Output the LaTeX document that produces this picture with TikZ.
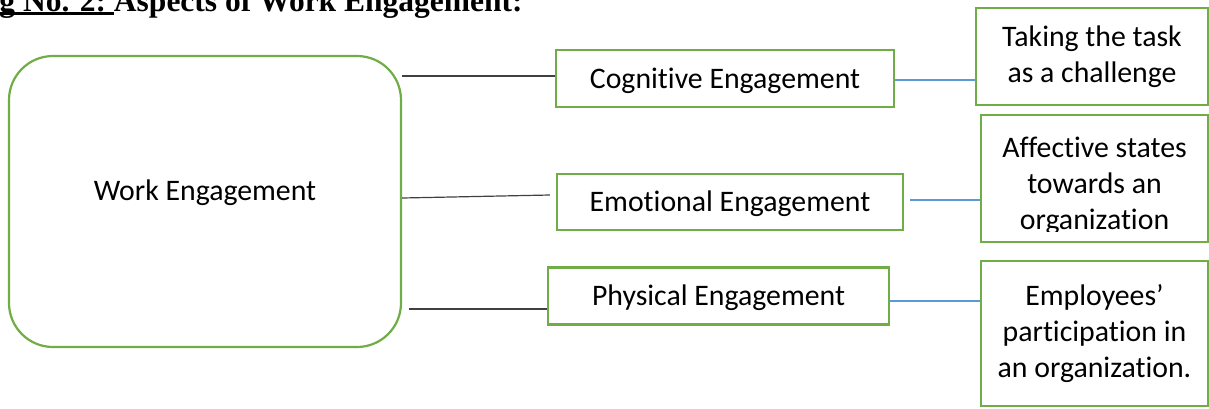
\documentclass[tikz,border=0pt]{standalone}
\usepackage{fontspec}
\setmainfont[Ligatures=NoCommon]{Carlito}
\newfontfamily\titlefont{Liberation Serif}
\usetikzlibrary{calc}
\definecolor{boxgreen}{RGB}{112,173,71}
\definecolor{linkblue}{RGB}{91,155,213}
\definecolor{linkgray}{RGB}{64,64,64}
\newcommand\titleul[1]{\setbox0\hbox{#1}\rlap{\rule[-2pt]{\wd0}{1.5pt}}\box0}

\begin{document}
\begin{tikzpicture}[x=0.5pt, y=-0.5pt,
	font=\fontsize{14.9}{18}\selectfont,
	aspect/.style={draw=boxgreen, line width=1.1pt, inner sep=0pt, align=center},
	main/.style={aspect, rounded corners=22pt, minimum width=196pt, minimum height=145.5pt, text height=9.6pt, text depth=11pt},
	kind/.style={aspect, minimum height=28.5pt, text height=9.6pt, text depth=0pt},
	detail/.style={aspect, minimum width=113.5pt},
	toplink/.style={draw=linkgray, line width=0.6pt},
	sidelink/.style={draw=linkblue, line width=0.6pt}]
	\useasboundingbox (0,0) rectangle (1209,408);

	\node[anchor=base west, inner sep=0pt, font=\titlefont\bfseries\fontsize{15.75}{18}\selectfont] (title) at (-1,11) {\titleul{g No. 2:\ }Aspects of Work Engagement:};

	\node[main] (work) at (205,201.5) {Work Engagement};
	\node[kind, minimum width=169pt] (cog) at (725,78.5) {Cognitive Engagement};
	\node[kind, minimum width=173pt, minimum height=28pt] (emo) at (730,202) {Emotional Engagement};
	\node[kind, minimum width=170.5pt] (phy) at (718.5,296) {Physical Engagement};

	\node[detail, minimum width=116pt, minimum height=48.5pt] (task) at (1092,56.5) {Taking the task\\as a challenge};
	\node[detail, minimum height=63.5pt] (affect) at (1094.5,178.5) {};
	\begin{scope}
		\clip (affect.north west) rectangle (1208,231);
		\node[align=center, inner sep=0pt] (affecttext) at (1094.5,186) {Affective states\\towards an\\organization};
	\end{scope}
	\node[detail, minimum height=72.5pt] (emp) at (1094.5,333.5) {Employees’\\participation in\\an organization.};

	\draw[toplink] ($(cog.west -| work.east)+(0,1.25pt)$) to ($(cog.west)+(0,1.25pt)$);
	\draw[toplink] ($(emo.west -| work.east)+(0,2pt)$) to ($(emo.west)+(-3pt,3.5pt)$);
	\draw[toplink] ($(phy.west -| work.east)+(3.5pt,-6.5pt)$) to ($(phy.west)+(0,-6.5pt)$);

	\draw[sidelink] ($(cog.east)+(0,-0.75pt)$) to ($(cog.east -| task.west)+(0,-0.75pt)$);
	\draw[sidelink] ($(emo.east)+(3pt,1pt)$) to ($(emo.east -| affect.west)+(0,1pt)$);
	\draw[sidelink] ($(phy.east)+(0,-2.5pt)$) to ($(phy.east -| emp.west)+(0,-2.5pt)$);
\end{tikzpicture}
\end{document}
